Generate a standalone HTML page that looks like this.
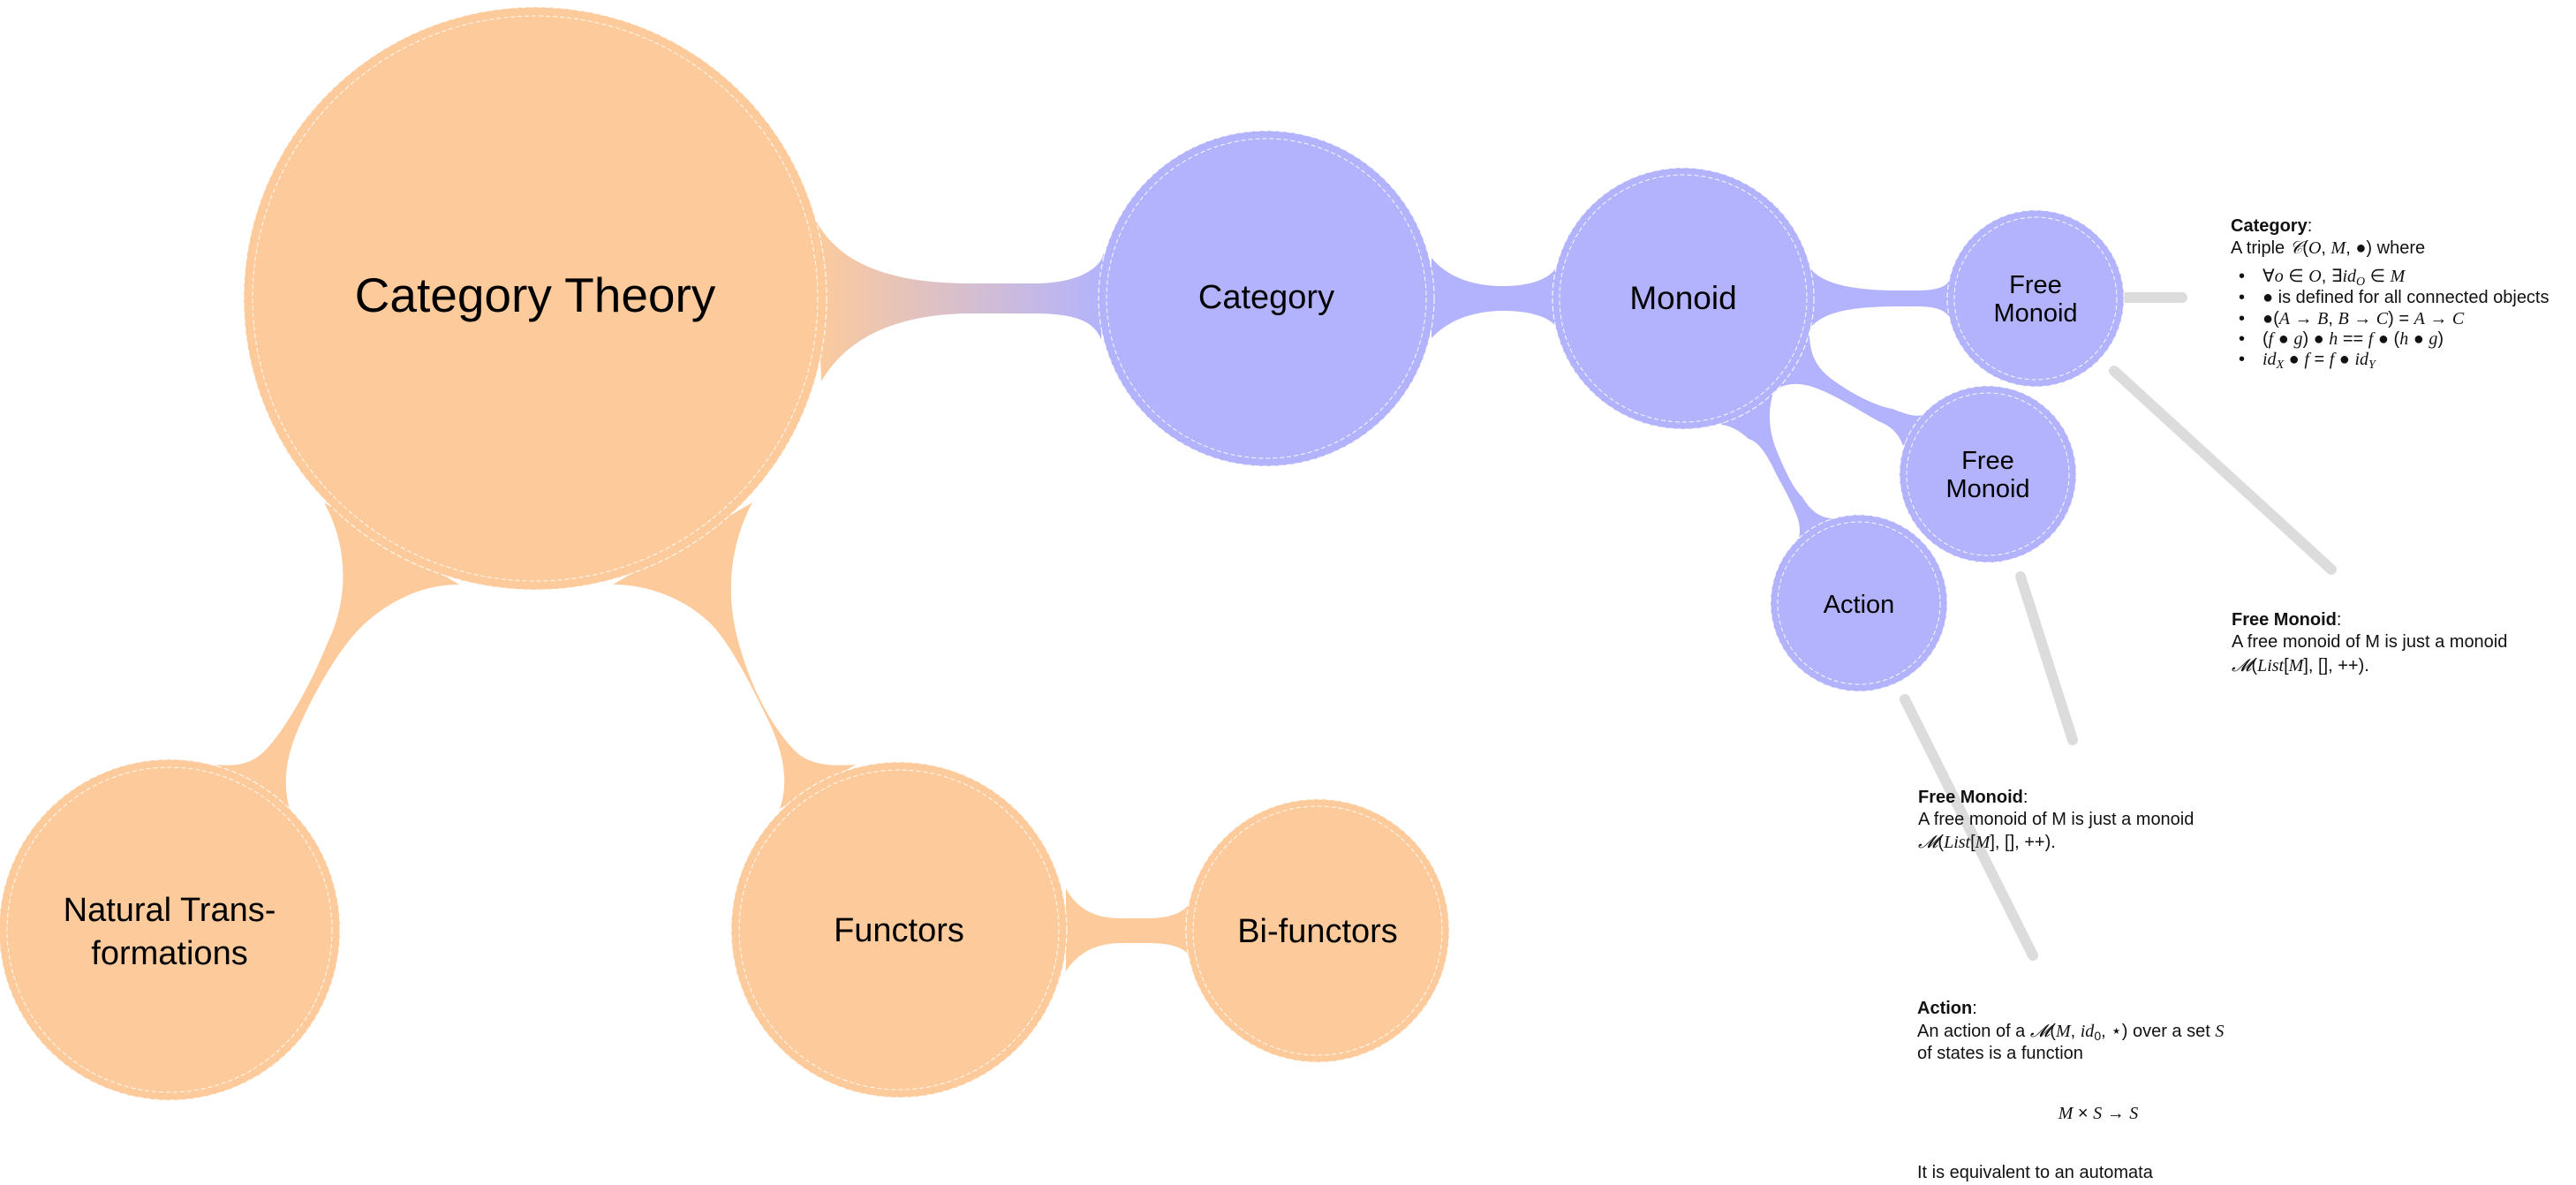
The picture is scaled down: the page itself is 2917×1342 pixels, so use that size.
<!DOCTYPE html>
<html><head><meta charset="utf-8"><style>
html,body{margin:0;padding:0;background:#fff;}
svg{display:block;}
text{font-family:"Liberation Sans",sans-serif;}
.n{font-size:20px;fill:#111;}
.b{font-weight:bold;}
.m{font-family:"Liberation Serif",serif;font-style:italic;}
</style></head><body>
<svg width="2917" height="1342" viewBox="0 0 2917 1342" xmlns="http://www.w3.org/2000/svg">
<defs>
<linearGradient id="g1" x1="920" y1="0" x2="1250" y2="0" gradientUnits="userSpaceOnUse">
<stop offset="0" stop-color="#fdcb9b"/><stop offset="1" stop-color="#b3b3fd"/>
</linearGradient>
</defs>
<!-- gray leader lines -->
<g stroke="#dcdcdc" stroke-width="12" stroke-linecap="round" fill="none">
<line x1="2404" y1="337" x2="2471" y2="337"/>
<line x1="2394" y1="420" x2="2640" y2="645"/>
<line x1="2288" y1="653" x2="2347" y2="838"/>
<line x1="2157" y1="792" x2="2302" y2="1082"/>
</g>
<!-- orange connectors -->
<g fill="#fdcb9b">
<path d="M923 248 C950 300 1010 321 1100 321 L1170 321 C1220 321 1245 305 1250 287 L1247 385 C1240 365 1220 355 1170 355 L1100 355 C1020 355 960 380 930 432 Z" fill="url(#g1)"/>
<path d="M367 569 C395 620 395 680 370 730 C350 780 320 830 300 850 C285 866 265 868 245 866 L329 920 C320 890 322 860 340 820 C365 765 395 720 418 702 C450 675 485 662 520 662 Z"/>
<path d="M852 569 C825 620 820 680 840 740 C855 790 880 830 900 850 C915 866 940 868 969 866 L883 916 C892 890 890 860 872 820 C848 770 822 720 800 702 C770 675 730 662 694 662 Z"/>
<path d="M1207 1006 C1220 1030 1240 1040 1270 1040 L1300 1040 C1330 1040 1345 1030 1349 1019 L1349 1087 C1345 1075 1330 1068 1300 1068 L1270 1068 C1240 1068 1220 1080 1207 1100 Z"/>
</g>
<!-- blue connectors -->
<g fill="#b3b3fd">
<path d="M1621 292 C1640 315 1670 324 1702 324 C1735 324 1755 315 1762 303 L1762 370 C1755 360 1735 352 1702 352 C1670 352 1640 362 1621 383 Z"/>
<path d="M2051 305 C2065 322 2100 329 2151 329 L2170 329 C2195 329 2205 324 2207 317 L2207 358 C2200 350 2190 347 2170 347 L2151 347 C2090 347 2065 355 2051 370 Z"/>
<path d="M2049 380 C2050 400 2055 415 2075 430 C2100 448 2125 460 2143 463 C2160 470 2170 472 2176 470 L2155 505 C2150 490 2140 482 2127 477 C2100 462 2075 445 2049 437 C2030 432 2015 436 2008 445 C2000 470 2005 495 2013 513 C2022 535 2032 555 2041 563 C2050 578 2060 586 2074 587 L2037 610 C2040 595 2035 585 2033 580 C2025 560 2015 545 2008 530 C1998 510 1990 500 1980 497 C1970 488 1960 482 1949 481 Z"/>
</g>
<!-- nodes -->
<g stroke="#fff" stroke-width="1.2" stroke-dasharray="6 3" stroke-opacity="0.85">
<circle cx="606" cy="338" r="330" fill="#fdcb9b"/>
<circle cx="192" cy="1053" r="193" fill="#fdcb9b"/>
<circle cx="1018" cy="1053" r="190" fill="#fdcb9b"/>
<circle cx="1492" cy="1054" r="149" fill="#fdcb9b"/>
<circle cx="1434" cy="338" r="190" fill="#b3b3fd"/>
<circle cx="1906" cy="338" r="148" fill="#b3b3fd"/>
<circle cx="2305" cy="338" r="100" fill="#b3b3fd"/>
<circle cx="2251" cy="537" r="100" fill="#b3b3fd"/>
<circle cx="2105" cy="683" r="100" fill="#b3b3fd"/>
</g>
<g fill="none" stroke="#fff" stroke-width="1" stroke-dasharray="5 3" stroke-opacity="0.9">
<circle cx="606" cy="338" r="320"/>
<circle cx="192" cy="1053" r="184"/>
<circle cx="1018" cy="1053" r="181"/>
<circle cx="1492" cy="1054" r="141"/>
<circle cx="1434" cy="338" r="181"/>
<circle cx="1906" cy="338" r="140"/>
<circle cx="2305" cy="338" r="92"/>
<circle cx="2251" cy="537" r="92"/>
<circle cx="2105" cy="683" r="92"/>
</g>
<!-- node labels -->
<g fill="#000" text-anchor="middle">
<text x="606" y="353" font-size="55">Category Theory</text>
<text x="1434" y="349" font-size="38">Category</text>
<text x="1906" y="350" font-size="37">Monoid</text>
<text x="2305" y="332" font-size="29">Free</text>
<text x="2305" y="364" font-size="29">Monoid</text>
<text x="2251" y="531" font-size="29">Free</text>
<text x="2251" y="563" font-size="29">Monoid</text>
<text x="2105" y="694" font-size="29">Action</text>
<text x="192" y="1043" font-size="38">Natural Trans-</text>
<text x="192" y="1092" font-size="38">formations</text>
<text x="1018" y="1066" font-size="38">Functors</text>
<text x="1492" y="1067" font-size="38">Bi-functors</text>
</g>
<!-- notes -->
<g class="n">
<text x="2526" y="262" class="n"><tspan class="b">Category</tspan>:</text>
<text x="2526" y="287" class="n">A triple <tspan class="m">𝒞</tspan>(<tspan class="m">O</tspan>, <tspan class="m">M</tspan>, ●) where</text>
<text x="2535" y="319" class="n">•</text><text x="2562" y="319" class="n">∀<tspan class="m">o</tspan> ∈ <tspan class="m">O</tspan>, ∃<tspan class="m">id</tspan><tspan class="m" font-size="14" dy="4">O</tspan><tspan dy="-4"> ∈ </tspan><tspan class="m">M</tspan></text>
<text x="2535" y="343" class="n">•</text><text x="2562" y="343" class="n">● is defined for all connected objects</text>
<text x="2535" y="367" class="n">•</text><text x="2562" y="367" class="n">●(<tspan class="m">A</tspan> → <tspan class="m">B</tspan>, <tspan class="m">B</tspan> → <tspan class="m">C</tspan>) = <tspan class="m">A</tspan> → <tspan class="m">C</tspan></text>
<text x="2535" y="390" class="n">•</text><text x="2562" y="390" class="n">(<tspan class="m">f</tspan> ● <tspan class="m">g</tspan>) ● <tspan class="m">h</tspan> == <tspan class="m">f</tspan> ● (<tspan class="m">h</tspan> ● <tspan class="m">g</tspan>)</text>
<text x="2535" y="413" class="n">•</text><text x="2562" y="413" class="n"><tspan class="m">id</tspan><tspan class="m" font-size="14" dy="4">X</tspan><tspan dy="-4"> ● </tspan><tspan class="m">f</tspan> = <tspan class="m">f</tspan> ● <tspan class="m">id</tspan><tspan class="m" font-size="14" dy="4">Y</tspan></text>

<text x="2527" y="708" class="n"><tspan class="b">Free Monoid</tspan>:</text>
<text x="2527" y="733" class="n">A free monoid of M is just a monoid</text>
<text x="2527" y="760" class="n"><tspan class="m">𝓜</tspan>(<tspan class="m">List</tspan>[<tspan class="m">M</tspan>], [], ++).</text>

<text x="2172" y="909" class="n"><tspan class="b">Free Monoid</tspan>:</text>
<text x="2172" y="934" class="n">A free monoid of M is just a monoid</text>
<text x="2172" y="960" class="n"><tspan class="m">𝓜</tspan>(<tspan class="m">List</tspan>[<tspan class="m">M</tspan>], [], ++).</text>

<text x="2171" y="1148" class="n"><tspan class="b">Action</tspan>:</text>
<text x="2171" y="1174" class="n">An action of a <tspan class="m">𝓜</tspan>(<tspan class="m">M</tspan>, <tspan class="m">id</tspan><tspan font-size="14" dy="4">0</tspan><tspan dy="-4">, ⋆) over a set </tspan><tspan class="m">S</tspan></text>
<text x="2171" y="1199" class="n">of states is a function</text>
<text x="2376" y="1267" class="n" text-anchor="middle"><tspan class="m">M</tspan> × <tspan class="m">S</tspan> → <tspan class="m">S</tspan></text>
<text x="2171" y="1334" class="n">It is equivalent to an automata</text>
</g>
</svg>
</body></html>
